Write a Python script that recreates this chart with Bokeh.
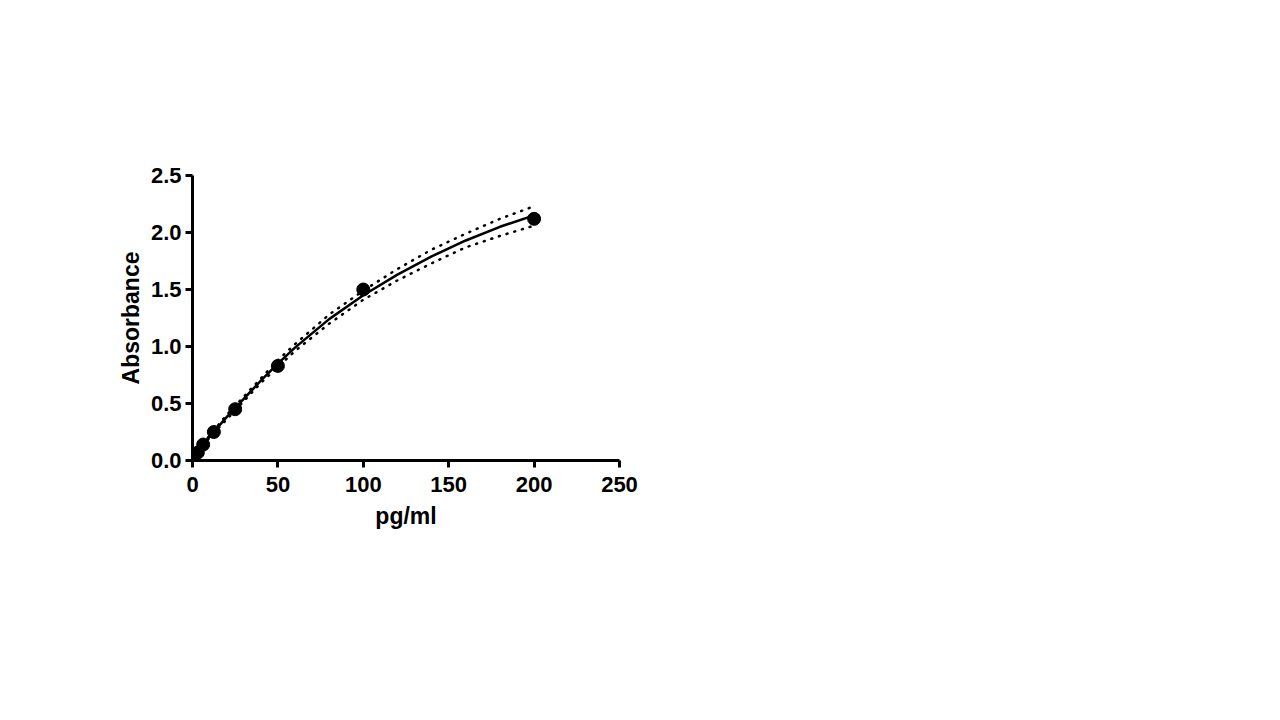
from bokeh.plotting import figure
from bokeh.models import Range1d, FixedTicker
from bokeh.embed import file_html
from bokeh.resources import INLINE

# Standard points
conc = [0, 3.125, 6.25, 12.5, 25, 50, 100, 200]
absorb = [0.03, 0.07, 0.14, 0.25, 0.45, 0.83, 1.50, 2.12]

# Fitted curve
fit_x = [0, 10, 20, 30, 40, 50, 60, 80, 100, 120, 140, 160, 180, 200]
fit_y = [0.03, 0.21, 0.38, 0.54, 0.70, 0.85, 0.99, 1.24, 1.45, 1.63, 1.79, 1.93, 2.05, 2.15]
band_upper = [0.04, 0.22, 0.40, 0.56, 0.72, 0.88, 1.02, 1.28, 1.49, 1.68, 1.85, 1.99, 2.12, 2.23]
band_lower = [0.02, 0.20, 0.36, 0.52, 0.68, 0.82, 0.96, 1.20, 1.41, 1.58, 1.73, 1.87, 1.97, 2.06]

x_ticks = [0, 50, 100, 150, 200, 250]
y_ticks = [0.0, 0.5, 1.0, 1.5, 2.0, 2.5]

FONT = "Liberation Sans"

p = figure(width=639, height=560, output_backend="svg", toolbar_location=None,
           x_range=Range1d(0, 250), y_range=Range1d(0, 2.5),
           min_border_left=192, min_border_top=175, min_border_right=20,
           min_border_bottom=100)
p.outline_line_color = None
p.xgrid.grid_line_color = None
p.ygrid.grid_line_color = None
p.background_fill_color = "white"
p.border_fill_color = "white"

for ax in (p.xaxis, p.yaxis):
    ax.axis_line_width = 3
    ax.axis_line_color = "black"
    ax.major_tick_line_width = 3
    ax.major_tick_line_color = "black"
    ax.major_tick_out = 7
    ax.major_tick_in = 0
    ax.minor_tick_line_color = None
    ax.major_label_text_font = FONT
    ax.major_label_text_font_style = "bold"
    ax.major_label_text_font_size = "22px"
    ax.major_label_text_color = "black"
    ax.axis_label_text_font = FONT
    ax.axis_label_text_font_style = "bold"
    ax.axis_label_text_font_size = "23px"
    ax.axis_label_text_color = "black"

p.xaxis.ticker = FixedTicker(ticks=x_ticks)
p.yaxis.ticker = FixedTicker(ticks=y_ticks)
p.yaxis.major_label_overrides = {t: f"{t:.1f}" for t in y_ticks}
p.xaxis.major_label_overrides = {t: str(t) for t in x_ticks}
p.xaxis.axis_label = "pg/ml"
p.yaxis.axis_label = "Absorbance"
p.xaxis.major_label_standoff = 9
p.yaxis.major_label_standoff = 4
p.xaxis.axis_label_standoff = 8
p.yaxis.axis_label_standoff = 4

p.line(fit_x, band_upper, line_color="black", line_width=2.5, line_dash="1 7", line_cap="round")
p.line(fit_x, band_lower, line_color="black", line_width=2.5, line_dash="1 7", line_cap="round")
p.line(fit_x, fit_y, line_color="black", line_width=2.5)
p.scatter(conc, absorb, size=13, fill_color="black", line_color="black")

open("out.html", "w").write(file_html(p, INLINE))
